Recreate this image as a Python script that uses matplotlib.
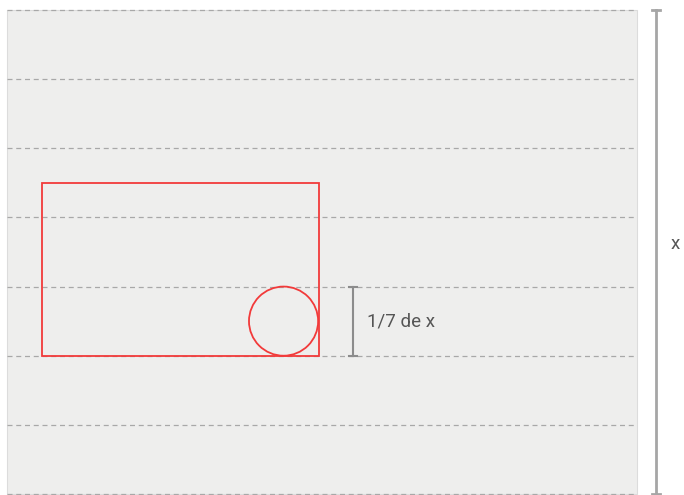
import matplotlib
matplotlib.use("Agg")
import matplotlib.pyplot as plt
from matplotlib.patches import Rectangle, Circle

# Diagram values (in grid units; one unit = 1/7 of x)
n_rows = 7
panel_width = 9.1
rect_x, rect_y, rect_w, rect_h = 0.5, 2.0, 4.0, 2.5
circle_center = (4.0, 2.5)
circle_radius = 0.5
small_bracket = (5.0, 2.0, 3.0)   # x, y0, y1
small_label = "1/7 de x"
big_label = "x"

U = 69.14  # pixels per unit
x0_px, bottom_px = 7.0, 494.0
W, H = 684, 495

fig = plt.figure(figsize=(W / 100, H / 100), dpi=100)
ax = fig.add_axes([0, 0, 1, 1])
ax.set_xlim(-x0_px / U, (W - x0_px) / U)
ax.set_ylim(-(H - bottom_px) / U, bottom_px / U)
ax.axis("off")

# Panel
ax.add_patch(Rectangle((0, 0), panel_width + 0.01, n_rows, facecolor="#eeeeed",
                       edgecolor="#dcdcdc", linewidth=0.8, zorder=0))
# Dashed grid lines
for i in range(n_rows + 1):
    ax.plot([0, panel_width], [i, i], color="#a8a8a8", linewidth=0.9,
            linestyle=(0, (4, 3)), zorder=1)

red = "#f23a3a"
ax.add_patch(Rectangle((rect_x, rect_y), rect_w + 0.01, rect_h, fill=False,
                       edgecolor=red, linewidth=1.3, zorder=3))
ax.add_patch(Circle(circle_center, circle_radius, fill=False,
                    edgecolor=red, linewidth=1.3, zorder=3))

# Small bracket
bx, by0, by1 = small_bracket
gc = "#8c8c8c"
ax.plot([bx, bx], [by0, by1], color=gc, linewidth=1.5, zorder=2)
cap = 0.06
for yy in (by0, by1):
    ax.plot([bx - cap, bx + cap], [yy, yy], color=gc, linewidth=1.5, zorder=2)
ax.text(bx + 0.2, (by0 + by1) / 2, small_label, fontsize=13.5,
        family="Roboto", color="#555555", va="center", ha="left")

# Big bracket
Bx = (656 - x0_px) / U
gc2 = "#a6a6a6"
ax.plot([Bx, Bx], [0, n_rows], color=gc2, linewidth=2.0, zorder=2)
for yy in (0, n_rows):
    ax.plot([Bx - 0.06, Bx + 0.06], [yy, yy], color=gc2, linewidth=2.0, zorder=2)
ax.text((671 - x0_px) / U, 3.62, big_label, fontsize=13.5,
        family="Roboto", color="#555555", va="center", ha="left")

fig.savefig("out.png", dpi=100)
